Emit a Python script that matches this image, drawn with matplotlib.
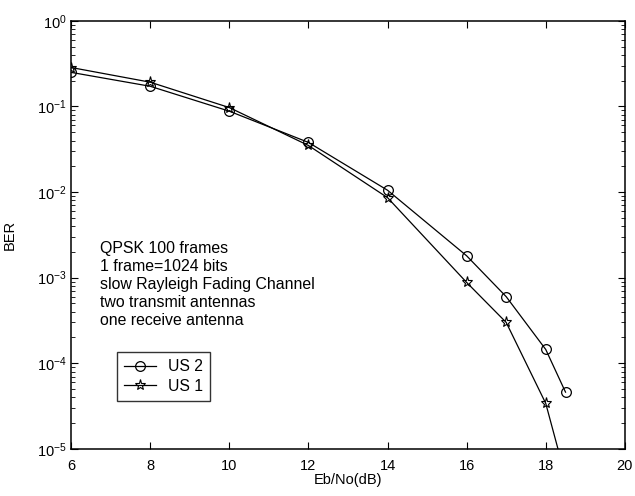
import matplotlib.pyplot as plt
import numpy as np

plt.rcParams['font.family'] = ['Liberation Sans', 'DejaVu Sans']
plt.rcParams['mathtext.fontset'] = 'custom'
plt.rcParams['mathtext.rm'] = 'Liberation Sans'
plt.rcParams['mathtext.it'] = 'Liberation Sans:italic'

# Data
ebno_us2 = [6, 8, 10, 12, 14, 16, 17, 18, 18.5]
ber_us2 = [0.25, 0.172, 0.088, 0.038, 0.0105, 0.0018, 0.0006, 0.000145, 0.000046]

ebno_us1 = [6, 8, 10, 12, 14, 16, 17, 18, 18.5]
ber_us1 = [0.285, 0.192, 0.097, 0.035, 0.0086, 0.00088, 0.00030, 0.000034, 0.0000047]

info_lines = ["QPSK 100 frames", "1 frame=1024 bits", "slow Rayleigh Fading Channel",
              "two transmit antennas", "one receive antenna"]

fig = plt.figure(figsize=(6.35, 4.96), dpi=100)
ax = fig.add_axes([0.112, 0.095, 0.872, 0.863])

ax.semilogy(ebno_us2, ber_us2, color='black', linewidth=0.9, marker='o',
            markersize=7, markerfacecolor='none', markeredgewidth=0.9, label='US 2')
ax.semilogy(ebno_us1, ber_us1, color='black', linewidth=0.9, marker='*',
            markersize=8, markerfacecolor='none', markeredgewidth=0.8, label='US 1')

ax.set_xlim(6, 20)
ax.set_ylim(1e-5, 1e0)
ax.set_xticks([6, 8, 10, 12, 14, 16, 18, 20])
ax.tick_params(which='both', direction='in', top=True, right=True, labelsize=10.5)
ax.tick_params(axis='x', pad=7)
ax.tick_params(which='major', length=5)
ax.tick_params(which='minor', length=3)
for sp in ax.spines.values():
    sp.set_linewidth(1.1)

ax.set_xlabel("Eb/No(dB)", fontsize=10.5, labelpad=0)
ax.set_ylabel("BER", fontsize=10.5, labelpad=14)

ax.text(6.72, 2.7e-3, "\n".join(info_lines), fontsize=11.4, va='top', ha='left',
        linespacing=1.25)

leg = ax.legend(loc='upper left', bbox_to_anchor=(0.083, 0.226), fontsize=11.3,
                frameon=True, fancybox=False, edgecolor='black', handlelength=2.0,
                borderpad=0.45, labelspacing=0.3, handletextpad=0.8, borderaxespad=0)
leg.get_frame().set_linewidth(1.0)

fig.savefig('out.png', dpi=100)
